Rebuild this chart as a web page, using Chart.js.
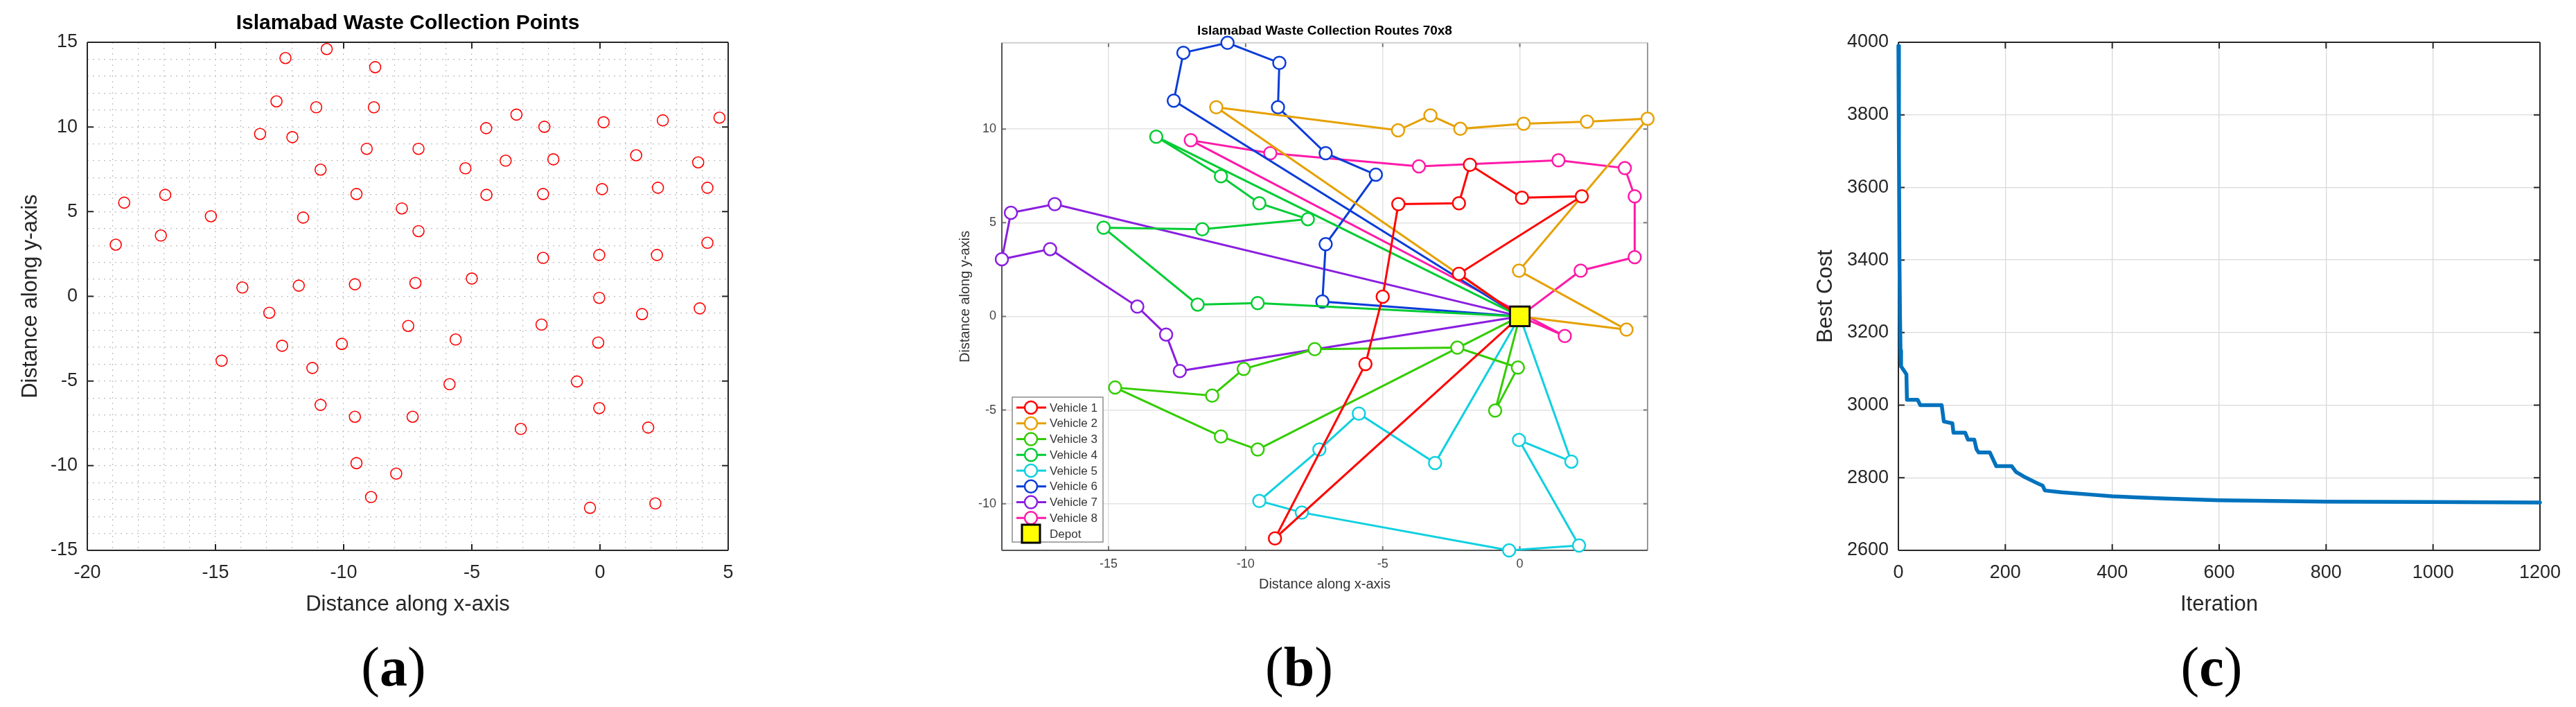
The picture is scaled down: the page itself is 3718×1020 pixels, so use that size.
<!DOCTYPE html>
<html>
<head>
<meta charset="utf-8">
<script src="https://cdn.jsdelivr.net/npm/chart.js@4.4.0/dist/chart.umd.min.js"></script>
<style>
  html, body { margin: 0; padding: 0; background: #fff; }
  #page { position: relative; width: 3718px; height: 1020px; overflow: hidden; background: #fff; }
  #page canvas { position: absolute; top: 0; }
  .sub { position: absolute; top: 962px; transform: translate(-50%, -50%); font-family: "Liberation Serif", "Times New Roman", serif; font-size: 80px; line-height: 1; color: #000; white-space: nowrap; }
</style>
</head>
<body>
<div id="page">
  <canvas id="chartA" width="1100" height="1020" style="left:0px"></canvas>
  <canvas id="chartB" width="1110" height="1020" style="left:1330px"></canvas>
  <canvas id="chartC" width="1158" height="1020" style="left:2560px"></canvas>
  <div class="sub" style="left:568px">(<b>a</b>)</div>
  <div class="sub" style="left:1875px">(<b>b</b>)</div>
  <div class="sub" style="left:3192px">(<b>c</b>)</div>
</div>
<script>
// collection points
const pointsX = [-10.66, -12.27, -8.77, -12.62, -11.07, -8.82, -3.26, -2.17, -4.44, 0.14,
                 2.45, 4.66, -13.26, -12.0, -9.1, -7.08, 1.41, 3.83, -3.68, -1.82,
                 -10.9, -5.25, -9.5, -4.43, -2.22, 0.08, 2.26, 4.19, -18.56, -16.96,
                 -15.18, -11.58, -7.73, -7.08, -18.89, -17.13, 4.19, -2.22, -0.03, 2.22,
                 -13.95, -11.75, -9.56, -7.2, -5.0, -0.03, -12.9, -7.48, -2.28, 1.64,
                 3.89, -12.4, -10.07, -5.63, -0.07, -14.76, -11.22, -5.87, -0.9, -10.9,
                 -9.56, -7.31, -3.09, -0.03, 1.88, -9.5, -7.95, -8.93, -0.39, 2.16];
const pointsY = [14.6, 14.07, 13.53, 11.51, 11.16, 11.16, 10.73, 10.01, 9.93, 10.28,
                 10.39, 10.55, 9.59, 9.4, 8.71, 8.71, 8.33, 7.91, 8.01, 8.09,
                 7.48, 7.56, 6.04, 5.99, 6.04, 6.33, 6.41, 6.41, 5.53, 5.99,
                 4.73, 4.65, 5.19, 3.85, 3.05, 3.59, 3.16, 2.27, 2.44, 2.44,
                 0.52, 0.63, 0.71, 0.79, 1.05, -0.09, -0.97, -1.75, -1.67, -1.05,
                 -0.71, -2.92, -2.81, -2.55, -2.73, -3.8, -4.23, -5.19, -5.03, -6.41,
                 -7.11, -7.11, -7.83, -6.6, -7.75, -9.85, -10.47, -11.85, -12.49, -12.23];
const xTicksA = [-20, -15, -10, -5, 0, 5];
const yTicksA = [-15, -10, -5, 0, 5, 10, 15];

// routes of panel b, as indexes into pointsX / pointsY (depot added at both ends)
const depot = [0, 0];
const vehicleNames = ['Vehicle 1', 'Vehicle 2', 'Vehicle 3', 'Vehicle 4', 'Vehicle 5', 'Vehicle 6', 'Vehicle 7', 'Vehicle 8'];
const vehicleColors = ['#ff0000', '#e6a000', '#33cc00', '#00cc33', '#10d0e0', '#0a3cd8', '#8a1ee0', '#ff1aa8'];
const route1 = [37, 26, 25, 19, 24, 23, 44, 53, 67];
const route2 = [50, 38, 11, 10, 9, 7, 6, 8, 4];
const route3 = [58, 54, 48, 47, 52, 56, 55, 59, 60];
const route4 = [12, 20, 22, 32, 31, 30, 41, 42];
const route5 = [64, 63, 69, 68, 66, 65, 61, 57, 62];
const route6 = [43, 33, 21, 15, 5, 2, 0, 1, 3];
const route7 = [29, 28, 34, 35, 40, 46, 51];
const route8 = [39, 36, 27, 17, 16, 18, 14, 13, 49];
const routes = [route1, route2, route3, route4, route5, route6, route7, route8];
const xTicksB = [-15, -10, -5, 0];
const yTicksB = [-10, -5, 0, 5, 10];

// convergence of panel c
const costIter = [0, 1, 2, 3, 4, 5, 15, 16, 36, 41, 81, 85, 101, 103, 125, 130, 142, 146, 150, 171,
                  183, 212, 220, 235, 257, 270, 274, 305, 357, 400, 443, 500, 560, 600, 700, 800, 1000, 1200];
const costBest = [3990, 3700, 3400, 3250, 3150, 3107, 3085, 3015, 3015, 3000, 3000, 2955, 2950, 2924, 2924, 2905, 2905, 2879, 2870, 2870,
                  2832, 2832, 2816, 2803, 2787, 2778, 2765, 2760, 2754, 2749, 2746, 2743, 2740, 2738, 2736, 2734, 2733, 2732];
const xTicksC = [0, 200, 400, 600, 800, 1000, 1200];
const yTicksC = [2600, 2800, 3000, 3200, 3400, 3600, 3800, 4000];

const FONT = '"Liberation Sans", Arial, Helvetica, sans-serif';
const TXT = '#262626';
Chart.defaults.font.family = FONT;

// MATLAB style box: frame round the plot and inward tick marks
const matlabBox = {
    id: 'matlabBox',
    beforeDatasetsDraw(chart, args, opts) {
        const { ctx, chartArea: a, scales } = chart;
        const sx = scales.x, sy = scales.y;
        ctx.save();
        ctx.lineWidth = opts.width;
        ctx.strokeStyle = opts.tickColor;
        ctx.beginPath();
        opts.xMajor.forEach(v => {
            const p = sx.getPixelForValue(v);
            ctx.moveTo(p, a.bottom); ctx.lineTo(p, a.bottom - opts.tickLen);
            ctx.moveTo(p, a.top); ctx.lineTo(p, a.top + opts.tickLen);
        });
        opts.yMajor.forEach(v => {
            const p = sy.getPixelForValue(v);
            ctx.moveTo(a.left, p); ctx.lineTo(a.left + opts.tickLen, p);
            ctx.moveTo(a.right, p); ctx.lineTo(a.right - opts.tickLen, p);
        });
        ctx.stroke();
        const side = (c, x1, y1, x2, y2) => {
            ctx.strokeStyle = c;
            ctx.beginPath(); ctx.moveTo(x1, y1); ctx.lineTo(x2, y2); ctx.stroke();
        };
        side(opts.colors.top, a.left, a.top, a.right, a.top);
        side(opts.colors.right, a.right, a.top, a.right, a.bottom);
        side(opts.colors.bottom, a.left, a.bottom, a.right, a.bottom);
        side(opts.colors.left, a.left, a.top, a.left, a.bottom);
        ctx.restore();
    }
};

// legend of panel b, inside the lower left corner
const routeLegend = {
    id: 'routeLegend',
    afterDatasetsDraw(chart, args, opts) {
        const { ctx, chartArea: a } = chart;
        const left = a.left + 15, bottom = a.bottom - 12;
        const w = 131, h = 209, rowH = 22.75;
        const top = bottom - h;
        ctx.save();
        ctx.fillStyle = '#fff';
        ctx.fillRect(left, top, w, h);
        ctx.strokeStyle = '#8c8c8c';
        ctx.lineWidth = 1.5;
        ctx.strokeRect(left, top, w, h);
        ctx.font = '17px ' + FONT;
        ctx.textBaseline = 'middle';
        ctx.textAlign = 'left';
        vehicleNames.forEach((name, i) => {
            const cy = top + 15 + i * rowH;
            ctx.strokeStyle = vehicleColors[i];
            ctx.lineWidth = 3;
            ctx.beginPath(); ctx.moveTo(left + 6, cy); ctx.lineTo(left + 49, cy); ctx.stroke();
            ctx.fillStyle = '#fff';
            ctx.lineWidth = 2.5;
            ctx.beginPath(); ctx.arc(left + 27, cy, 9, 0, Math.PI * 2); ctx.fill(); ctx.stroke();
            ctx.fillStyle = '#333';
            ctx.fillText(name, left + 54, cy + 1);
        });
        const cy = top + 15 + 8 * rowH;
        ctx.fillStyle = '#ffff00';
        ctx.strokeStyle = '#000';
        ctx.lineWidth = 3;
        ctx.fillRect(left + 14, cy - 13, 26, 26);
        ctx.strokeRect(left + 14, cy - 13, 26, 26);
        ctx.fillStyle = '#333';
        ctx.fillText('Depot', left + 54, cy + 1);
        ctx.restore();
    }
};

const intsBetween = (lo, hi) => { const r = []; for (let v = lo; v <= hi; v++) r.push(v); return r; };
const setTicks = list => scale => { scale.ticks = list.map(v => ({ value: v })); };

// Panel a: collection points
new Chart(document.getElementById('chartA'), {
    type: 'scatter',
    data: {
        datasets: [{
            data: pointsX.map((x, i) => ({ x: x, y: pointsY[i] })),
            pointStyle: 'circle',
            pointRadius: 8,
            pointBorderWidth: 1.6,
            borderColor: '#ff0000',
            backgroundColor: 'rgba(0,0,0,0)',
            clip: false
        }]
    },
    options: {
        responsive: false,
        animation: false,
        devicePixelRatio: 1,
        layout: { padding: { left: 0, right: 49, top: 0, bottom: 0 }, autoPadding: false },
        plugins: {
            legend: { display: false },
            tooltip: { enabled: false },
            title: {
                display: true, fullSize: false,
                text: 'Islamabad Waste Collection Points',
                color: '#000',
                font: { family: FONT, size: 30, weight: 'bold', lineHeight: 1.2 },
                padding: { top: 16, bottom: 9 }
            },
            matlabBox: {
                xMajor: xTicksA, yMajor: yTicksA, tickLen: 9, width: 2, tickColor: TXT,
                colors: { top: TXT, right: TXT, bottom: TXT, left: TXT }
            }
        },
        scales: {
            x: {
                type: 'linear', min: -20, max: 5,
                afterBuildTicks: setTicks(intsBetween(-20, 5)),
                afterFit: s => { s.height = 226; },
                ticks: {
                    autoSkip: false, maxRotation: 0, padding: 16, color: TXT,
                    font: { size: 27, lineHeight: 1.2 },
                    callback: v => xTicksA.includes(v) ? String(v) : ''
                },
                grid: { color: '#bdbdbd', lineWidth: 1.2, drawTicks: false },
                border: { display: false, dash: [2, 6] },
                title: { display: true, text: 'Distance along x-axis', color: TXT, font: { size: 31, lineHeight: 1.2 }, padding: { top: 0, bottom: 129 } }
            },
            y: {
                type: 'linear', min: -15, max: 15,
                afterBuildTicks: setTicks(intsBetween(-15, 15)),
                afterFit: s => { s.width = 126; },
                ticks: {
                    autoSkip: false, padding: 14, color: TXT,
                    font: { size: 27, lineHeight: 1.2 },
                    callback: v => yTicksA.includes(v) ? String(v) : ''
                },
                grid: { color: '#bdbdbd', lineWidth: 1.2, drawTicks: false },
                border: { display: false, dash: [2, 6] },
                title: { display: true, text: 'Distance along y-axis', color: TXT, font: { size: 31, lineHeight: 1.2 }, padding: { top: 26, bottom: 0 } }
            }
        }
    },
    plugins: [matlabBox]
});

// Panel b: vehicle routes
const routeDatasets = routes.map((r, i) => ({
    label: vehicleNames[i],
    data: [depot].concat(r.map(k => [pointsX[k], pointsY[k]]), [depot]).map(p => ({ x: p[0], y: p[1] })),
    showLine: true,
    borderColor: vehicleColors[i],
    borderWidth: 3,
    pointStyle: 'circle',
    pointRadius: 9,
    pointBorderWidth: 2.5,
    pointBackgroundColor: '#fff',
    pointBorderColor: vehicleColors[i],
    clip: false
}));
const routeX = routes.flat().map(k => pointsX[k]).concat(depot[0]);
const routeY = routes.flat().map(k => pointsY[k]).concat(depot[1]);

new Chart(document.getElementById('chartB'), {
    type: 'scatter',
    data: {
        datasets: [{
            label: 'Depot',
            data: [{ x: depot[0], y: depot[1] }],
            pointStyle: 'rect',
            pointRadius: 20,
            pointBorderWidth: 3,
            pointBackgroundColor: '#ffff00',
            pointBorderColor: '#111',
            clip: false
        }].concat(routeDatasets)
    },
    options: {
        responsive: false,
        animation: false,
        devicePixelRatio: 1,
        layout: { padding: { left: 0, right: 62, top: 0, bottom: 0 }, autoPadding: false },
        plugins: {
            legend: { display: false },
            tooltip: { enabled: false },
            title: {
                display: true, fullSize: false,
                text: 'Islamabad Waste Collection Routes 70x8',
                color: '#000',
                font: { family: FONT, size: 19, weight: 'bold', lineHeight: 1.2 },
                padding: { top: 33, bottom: 6 }
            },
            matlabBox: {
                xMajor: xTicksB, yMajor: yTicksB, tickLen: 6, width: 2, tickColor: '#777',
                colors: { top: '#cfcfcf', right: '#999', bottom: '#555', left: '#555' }
            }
        },
        scales: {
            x: {
                type: 'linear', min: Math.min(...routeX), max: Math.max(...routeX),
                afterBuildTicks: setTicks(xTicksB),
                afterFit: s => { s.height = 226; },
                ticks: { autoSkip: false, maxRotation: 0, padding: 9, color: '#444', font: { size: 18, lineHeight: 1.2 }, callback: v => String(v) },
                grid: { color: '#e3e3e3', lineWidth: 1.5, drawTicks: false },
                border: { display: false },
                title: { display: true, text: 'Distance along x-axis', color: '#333', font: { size: 20, lineHeight: 1.2 }, padding: { top: 0, bottom: 165 } }
            },
            y: {
                type: 'linear', min: Math.min(...routeY), max: Math.max(...routeY),
                afterBuildTicks: setTicks(yTicksB),
                afterFit: s => { s.width = 116; },
                ticks: { autoSkip: false, padding: 8, color: '#444', font: { size: 18, lineHeight: 1.2 }, callback: v => String(v) },
                grid: { color: '#e3e3e3', lineWidth: 1.5, drawTicks: false },
                border: { display: false },
                title: { display: true, text: 'Distance along y-axis', color: '#333', font: { size: 20, lineHeight: 1.2 }, padding: { top: 51, bottom: 0 } }
            }
        }
    },
    plugins: [matlabBox, routeLegend]
});

// Panel c: best cost per iteration
new Chart(document.getElementById('chartC'), {
    type: 'scatter',
    data: {
        datasets: [{
            data: costIter.map((x, i) => ({ x: x, y: costBest[i] })),
            showLine: true,
            borderColor: '#0072bd',
            borderWidth: 5.5,
            borderJoinStyle: 'round',
            borderCapStyle: 'round',
            pointRadius: 0,
            clip: false
        }]
    },
    options: {
        responsive: false,
        animation: false,
        devicePixelRatio: 1,
        layout: { padding: { left: 0, right: 52, top: 61, bottom: 0 }, autoPadding: false },
        plugins: {
            legend: { display: false },
            tooltip: { enabled: false },
            matlabBox: {
                xMajor: xTicksC, yMajor: yTicksC, tickLen: 9, width: 2, tickColor: TXT,
                colors: { top: TXT, right: TXT, bottom: TXT, left: TXT }
            }
        },
        scales: {
            x: {
                type: 'linear', min: 0, max: 1200,
                afterBuildTicks: setTicks(xTicksC),
                afterFit: s => { s.height = 226; },
                ticks: { autoSkip: false, maxRotation: 0, padding: 16, color: TXT, font: { size: 27, lineHeight: 1.2 }, callback: v => String(v) },
                grid: { color: '#d9d9d9', lineWidth: 1.3, drawTicks: false },
                border: { display: false },
                title: { display: true, text: 'Iteration', color: TXT, font: { size: 31, lineHeight: 1.2 }, padding: { top: 0, bottom: 129 } }
            },
            y: {
                type: 'linear', min: 2600, max: 4000,
                afterBuildTicks: setTicks(yTicksC),
                afterFit: s => { s.width = 180; },
                ticks: { autoSkip: false, padding: 14, color: TXT, font: { size: 27, lineHeight: 1.2 }, callback: v => String(v) },
                grid: { color: '#d9d9d9', lineWidth: 1.3, drawTicks: false },
                border: { display: false },
                title: { display: true, text: 'Best Cost', color: TXT, font: { size: 31, lineHeight: 1.2 }, padding: { top: 57, bottom: 0 } }
            }
        }
    },
    plugins: [matlabBox]
});
</script>
</body>
</html>
